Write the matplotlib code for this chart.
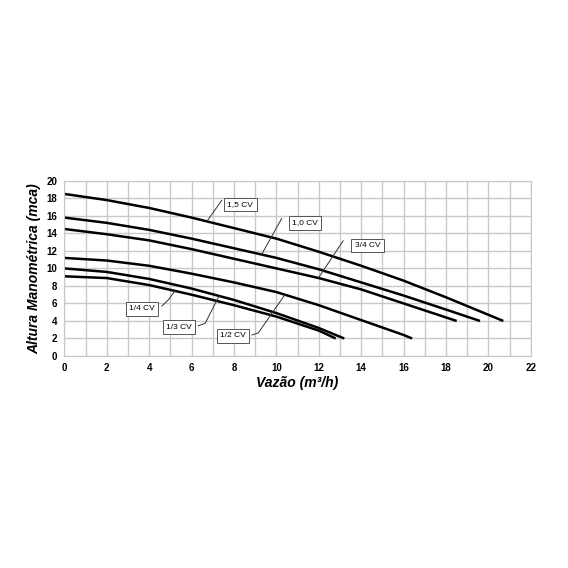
import matplotlib
matplotlib.use('Agg')
import matplotlib.pyplot as plt
import numpy as np

plt.rcParams['font.family'] = ['Liberation Sans', 'DejaVu Sans']

# pump curves: flow (m3/h) -> head (mca)
q_15 = [0, 2, 4, 6, 8, 10, 12, 14, 16, 18, 20, 20.7]
h_15 = [18.5, 17.8, 16.9, 15.8, 14.6, 13.4, 11.9, 10.3, 8.6, 6.7, 4.7, 4.0]
q_10 = [0, 2, 4, 6, 8, 10, 12, 14, 16, 18, 19.6]
h_10 = [15.8, 15.2, 14.4, 13.4, 12.3, 11.2, 9.9, 8.4, 6.9, 5.3, 4.0]
q_34 = [0, 2, 4, 6, 8, 10, 12, 14, 16, 18, 18.5]
h_34 = [14.5, 13.9, 13.2, 12.2, 11.1, 10.0, 8.9, 7.6, 6.0, 4.4, 4.0]
q_12 = [0, 2, 4, 6, 8, 10, 12, 14, 16, 16.4]
h_12 = [11.2, 10.9, 10.3, 9.4, 8.4, 7.3, 5.8, 4.1, 2.4, 2.0]
q_13 = [0, 2, 4, 6, 8, 10, 12, 13.2]
h_13 = [10.0, 9.6, 8.8, 7.7, 6.4, 4.9, 3.2, 2.0]
q_14 = [0, 2, 4, 6, 8, 10, 12, 12.8]
h_14 = [9.1, 8.9, 8.1, 7.0, 5.8, 4.5, 2.9, 2.0]

labels = ['1,5 CV', '1,0 CV', '3/4 CV', '1/2 CV', '1/3 CV', '1/4 CV']
curves = [(q_15, h_15), (q_10, h_10), (q_34, h_34), (q_12, h_12), (q_13, h_13), (q_14, h_14)]

# label box centre, leader start, leader end x (end y taken from the curve)
label_pos = [(8.3, 17.3), (11.35, 15.2), (14.3, 12.6), (7.95, 2.3), (5.4, 3.3), (3.65, 5.4)]
leader_start = [(7.42, 17.75), (10.25, 15.7), (13.15, 13.15), (8.85, 2.4), (6.32, 3.45), (4.6, 5.7)]
leader_knee = [None, None, None, (9.15, 2.65), (6.64, 3.73), (4.9, 6.4)]
leader_end_x = [6.72, 9.3, 11.98, 10.4, 7.3, 5.22]

fig = plt.figure(figsize=(5.68, 5.68), dpi=100)
ax = fig.add_axes([0.1132, 0.3732, 0.8215, 0.3085])

ax.set_xlim(0, 22)
ax.set_ylim(0, 20)
ax.set_xticks(np.arange(0, 23, 2))
ax.set_yticks(np.arange(0, 21, 2))
ax.set_xticks(np.arange(0, 23, 1), minor=True)
ax.grid(True, which='major', color='#c8c8c8', lw=1.0)
ax.grid(True, which='minor', axis='x', color='#c8c8c8', lw=1.0)
ax.tick_params(which='both', length=0, labelsize=7, pad=5)
for lab in ax.get_xticklabels() + ax.get_yticklabels():
    lab.set_fontweight('bold')
for s in ax.spines.values():
    s.set_color('#c8c8c8')
ax.set_axisbelow(True)

for (q, h) in curves:
    ax.plot(q, h, color='black', lw=1.8, solid_capstyle='butt')

for i, name in enumerate(labels):
    q, h = curves[i]
    ex = leader_end_x[i]
    ey = np.interp(ex, q, h)
    xs = [leader_start[i][0]]
    ys = [leader_start[i][1]]
    if leader_knee[i] is not None:
        xs.append(leader_knee[i][0])
        ys.append(leader_knee[i][1])
    xs.append(ex)
    ys.append(ey)
    ax.plot(xs, ys, color='#333333', lw=0.7)
    ax.text(label_pos[i][0], label_pos[i][1], name, fontsize=6, ha='center', va='center',
            bbox=dict(boxstyle='square,pad=0.4', fc='white', ec='#555555', lw=0.7))

ax.set_xlabel('Vazão (m³/h)', fontsize=10, fontweight='bold', style='italic', labelpad=2)
ax.set_ylabel('Altura Manométrica (mca)', fontsize=10, fontweight='bold', style='italic', labelpad=4)

fig.savefig('out.png', dpi=100)
